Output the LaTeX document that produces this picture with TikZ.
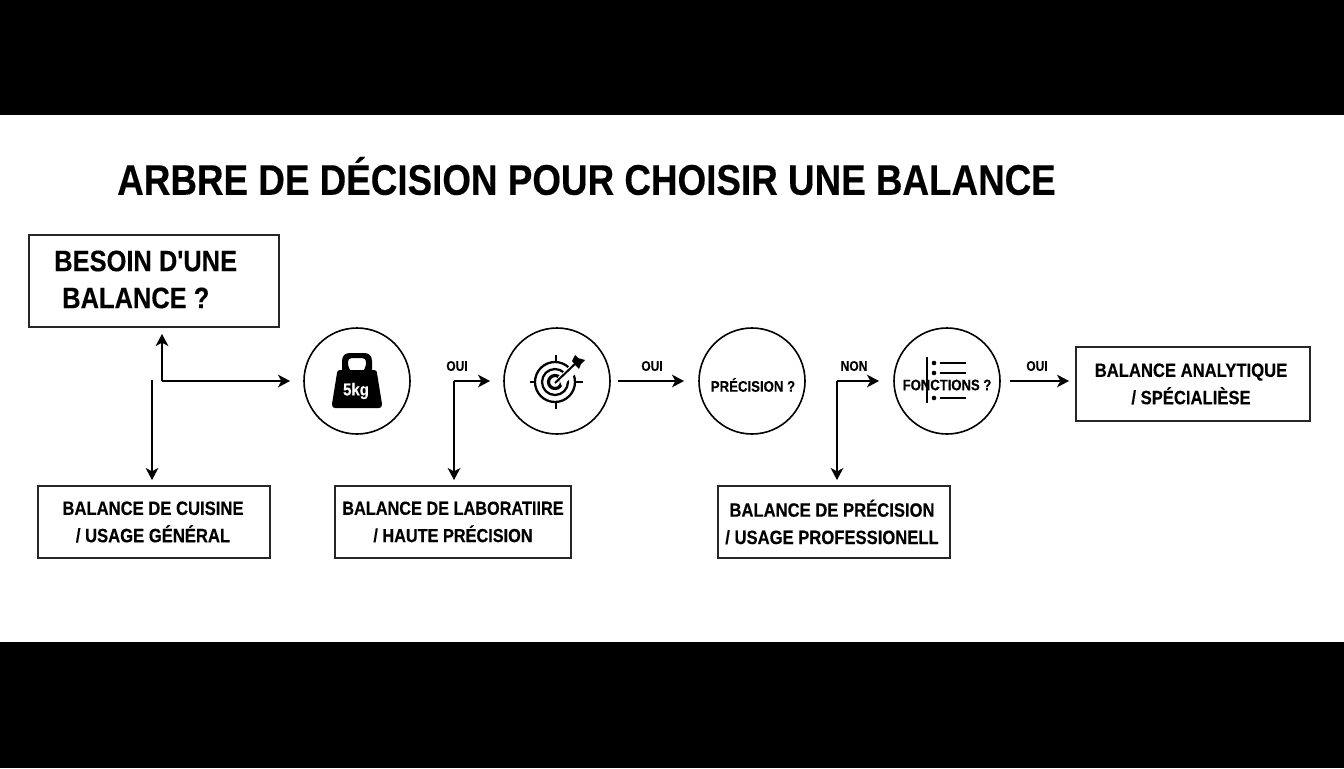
\documentclass[tikz,border=0pt]{standalone}
\usepackage{fontspec}
\setmainfont{Liberation Sans}[BoldFont={Liberation Sans Bold},BoldFeatures={FakeStretch=0.86,FakeBold=0.25}]
\newfontfamily\plainbold{Liberation Sans Bold}[FakeStretch=0.86,FakeBold=0.25]
\usetikzlibrary{arrows.meta}
\tikzset{
  px/.style={x=0.75pt,y=-0.75pt},
  framed/.style={draw=black!85,line width=1.1pt,inner sep=0pt,align=center},
  circ/.style={circle,draw=black,line width=1.2pt,minimum size=79.5pt,inner sep=0pt},
  lab/.style={font=\bfseries\fontsize{10.5}{12}\selectfont,inner sep=0pt},
  boxtxt/.style={font=\bfseries\fontsize{14.5}{20.5}\selectfont},
  link/.style={line width=1.4pt,-{Stealth[length=9pt,width=9.5pt,inset=2.5pt]}},
  needtxt/.style={anchor=west,inner sep=0pt,font=\plainbold\fontsize{22.2}{27}\selectfont}
}
\begin{document}
\begin{tikzpicture}[px]
\useasboundingbox (0,0) rectangle (1344,768);
\fill[white] (0,0) rectangle (1344,768);
\fill[black] (0,0) rectangle (1344,115);
\fill[black] (0,642) rectangle (1344,768);
\node[anchor=west,inner sep=0pt,font=\bfseries\fontsize{32.1}{36}\selectfont] (title) at (117,176) {ARBRE DE DÉCISION POUR CHOISIR UNE BALANCE};
% boxes
\node[framed,minimum width=187.5pt,minimum height=69pt] (need) at (154,281) {};
\node[needtxt] (needa) at (54,261) {BESOIN D'UNE};
\node[needtxt] (needb) at (62,298) {BALANCE ?};
\node[framed,minimum width=174pt,minimum height=54pt] (cuisine) at (154,522) {};
\node[boxtxt,align=center,inner sep=0pt] (cuisinet) at (153,522) {BALANCE DE CUISINE\\/ USAGE GÉNÉRAL};
\node[framed,minimum width=177pt,minimum height=54pt,font=\bfseries\fontsize{14.2}{20.5}\selectfont] (labo) at (453,522) {BALANCE DE LABORATIIRE\\/ HAUTE PRÉCISION};
\node[framed,minimum width=174pt,minimum height=54pt] (prec) at (834,522) {};
\node[boxtxt,align=center,inner sep=0pt] (prect) at (832,522) {BALANCE DE PRÉCISION\\/ USAGE PROFESSIONELL};
\node[framed,minimum width=175.5pt,minimum height=55.5pt] (analy) at (1193,384) {};
\node[boxtxt,align=center,inner sep=0pt] (analyt) at (1191,384) {BALANCE ANALYTIQUE\\/ SPÉCIALIÈSE};
% circles
\node[circ] (c1) at (357,381) {};
\node[circ] (c2) at (557,381) {};
\node[circ] (c3) at (752,381) {};
\node[circ] (c4) at (947,381) {};
\node[font=\bfseries\fontsize{11.5}{13}\selectfont,inner sep=0pt] (c3t) at (753,385) {PRÉCISION ?};
% kettlebell
\fill[black,even odd rule] (342,370) -- (342,361) .. controls (342,355) and (346,353) .. (350,353) -- (364,353) .. controls (368,353) and (372,355) .. (372,361) -- (372,370) -- (374,370) .. controls (376,370) and (377,371) .. (377,373) -- (382,404) .. controls (382,407) and (381,408) .. (379,408) -- (335,408) .. controls (333,408) and (332,407) .. (332,404) -- (337,373) .. controls (337,371) and (338,370) .. (340,370) -- cycle
  (350,370) .. controls (348,366) and (347,362) .. (349,359) .. controls (350,358) and (351,358) .. (352,358) -- (362,358) .. controls (363,358) and (364,358) .. (365,359) .. controls (367,362) and (366,366) .. (364,370) -- cycle;
\node[text=white,font=\bfseries\fontsize{13}{14}\selectfont,inner sep=0pt] (kg) at (356,391) {5kg};
% target
\draw[line width=1.7pt] (555,382) circle (20) (555,382) circle (13);
\draw[line width=2.4pt] (555,382) circle (6.5);
\draw[line width=1.2pt] (530,382) -- (535,382) (575,382) -- (583,382) (556,355) -- (556,362) (556,402) -- (556,409);
\fill[white] (558,377) -- (576,360) -- (583,367) -- (562,386) -- cycle;
\draw[line width=1.5pt] (555,383) -- (577,362);
\fill[black] (572,361) -- (575,355) -- (578,358) -- (585,360) -- (581,364) -- (579,369) -- (576,366) -- cycle;
% list icon
\draw[line width=1.5pt] (927,357) -- (927,403);
\foreach \yy in {363,373,398} {
  \fill (934,\yy) circle (2.3);
  \draw[line width=1.6pt] (940,\yy) -- (966,\yy);
}
\node[font=\bfseries\fontsize{11.4}{13}\selectfont,inner sep=0pt] (c4t) at (947,385) {FONCTIONS ?};
% connectors
\coordinate (j1) at (162,381);
\coordinate (s1) at (152,380);
\coordinate (e1) at (152,480);
\coordinate (u1) at (162,334);
\coordinate (r1) at (290,381);
\draw[link] (j1) -- (u1);
\draw[link] (j1) -- (r1);
\draw[link] (s1) -- (e1);
\coordinate (j2) at (454,381);
\coordinate (r2) at (490,381);
\coordinate (e2) at (454,480);
\draw[link] (j2) -- (r2);
\draw[link] (j2) -- (e2);
\coordinate (s3) at (618,381);
\coordinate (r3) at (684,381);
\draw[link] (s3) -- (r3);
\coordinate (j4) at (837,381);
\coordinate (r4) at (879,381);
\coordinate (e4) at (837,480);
\draw[link] (j4) -- (r4);
\draw[link] (j4) -- (e4);
\coordinate (s5) at (1010,381);
\coordinate (r5) at (1069,381);
\draw[link] (s5) -- (r5);
% labels
\node[lab] (l1) at (457,366) {OUI};
\node[lab] (l2) at (652,366) {OUI};
\node[lab] (l3) at (854,366) {NON};
\node[lab] (l4) at (1037,366) {OUI};
\end{tikzpicture}
\end{document}
